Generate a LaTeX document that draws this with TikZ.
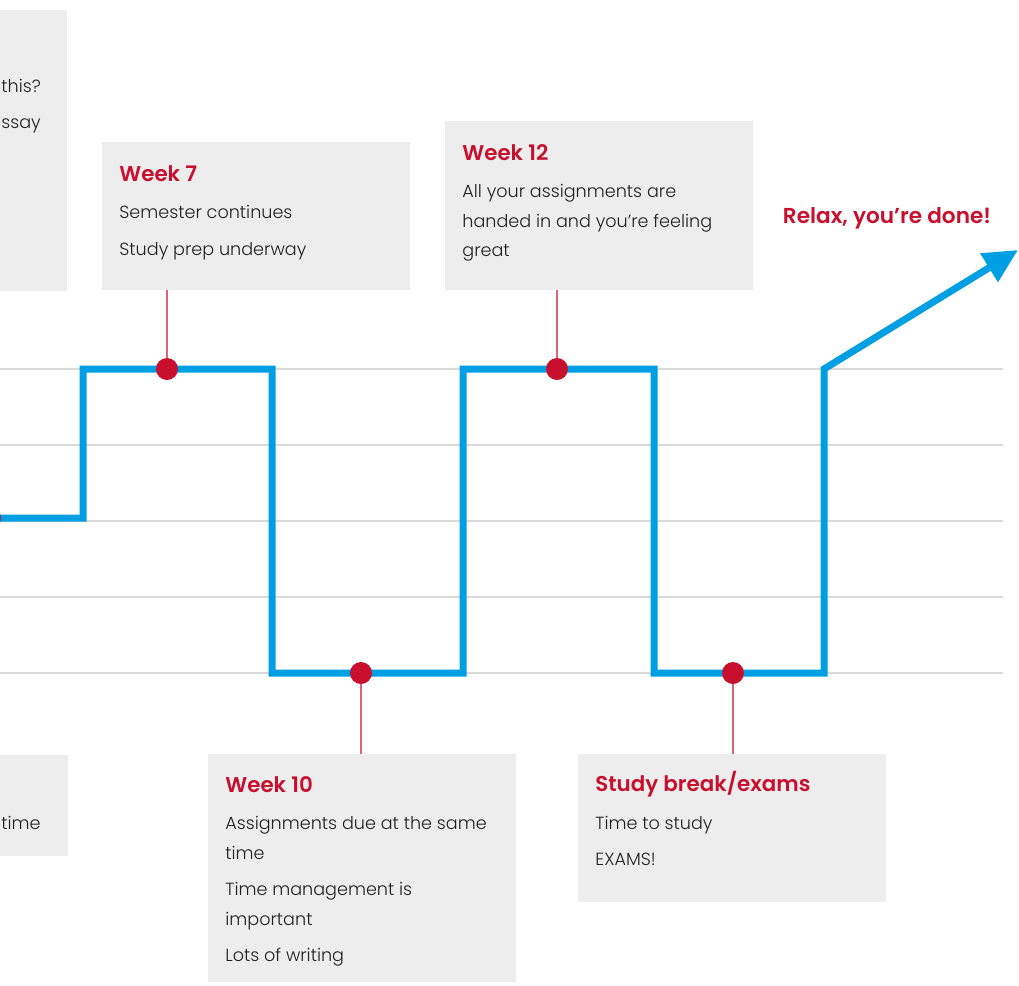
\documentclass[tikz,border=0pt]{standalone}
\usepackage{fontspec}
\setmainfont{Poppins}[UprightFont=* Light, BoldFont=* SemiBold]
\usetikzlibrary{arrows.meta}
\definecolor{trailblue}{HTML}{009FE3}
\definecolor{weekred}{HTML}{C8102E}
\definecolor{boxgrey}{HTML}{EDEDED}
\definecolor{gridgrey}{HTML}{D9D9D9}
\definecolor{bodytext}{HTML}{222222}
\newcommand{\wkhead}[1]{{\fontsize{10.7}{14}\selectfont\bfseries\color{weekred}#1}}
\tikzset{
  infobox/.style={rectangle, fill=boxgrey, inner sep=0pt},
  boxtext/.style={anchor=north west, align=left, inner sep=0pt, text=bodytext,
    font=\fontsize{8.8}{14.75}\selectfont},
  cuttext/.style={anchor=base west, inner sep=0pt, text=bodytext,
    font=\fontsize{8.8}{14.75}\selectfont},
  trail/.style={draw=trailblue, line width=3.5pt, line join=miter},
  weekdot/.style={circle, fill=weekred, minimum size=11pt, inner sep=0pt},
  stem/.style={draw=weekred!65!white, line width=0.6pt},
  gridline/.style={draw=gridgrey, line width=0.7pt}
}
\begin{document}
\begin{tikzpicture}[x=0.5pt, y=-0.5pt]
    \useasboundingbox (0,0) rectangle (1019,986);
    \clip (0,0) rectangle (1019,986);

    % grid
    \foreach \gy in {369,445,521,597,673}
        \draw[gridline] (0,\gy) -- (1003,\gy);

    % boxes cut off at the left
    \node[infobox, minimum width=158.5pt, minimum height=140.5pt] (prev1) at (-91.5,150.5) {};
    \node[cuttext] (prev1a) at (1,92) {this?};
    \node[cuttext] (prev1b) at (1,128) {ssay};
    \node[infobox, minimum width=159pt, minimum height=50.5pt] (prev2) at (-91,805.5) {};
    \node[cuttext] (prev2a) at (1,829) {time};

    % Week 7 box
    \node[infobox, minimum width=154pt, minimum height=74pt] (wk7) at (256,216) {};
    \node[boxtext] at (119,165) {\wkhead{Week 7}\\[4pt]
        Semester continues\\[3.5pt]
        Study prep underway};

    % Week 12 box
    \node[infobox, minimum width=154pt, minimum height=84.5pt] (wk12) at (599,205.5) {};
    \node[boxtext] at (462,144) {\wkhead{Week 12}\\[4pt]
        All your assignments are\\
        handed in and you’re feeling\\
        great};

    % Week 10 box
    \node[infobox, minimum width=154pt, minimum height=114pt] (wk10) at (362,868) {};
    \node[boxtext] at (225,776) {\wkhead{Week 10}\\[4pt]
        Assignments due at the same\\
        time\\[3.5pt]
        Time management is\\
        important\\[3.5pt]
        Lots of writing};

    % Study break box
    \node[infobox, minimum width=154pt, minimum height=74pt] (exams) at (732,828) {};
    \node[boxtext] at (595,771) {\wkhead{Study break/exams}\\[4pt]
        Time to study\\[3.5pt]
        EXAMS!};

    % the trail
    \draw[trail, -{Triangle[length=17pt, width=16pt]}]
        (-20,518) -- (83,518) -- (83,369) -- (272,369) -- (272,673)
        -- (463,673) -- (463,369) -- (654,369) -- (654,673)
        -- (824,673) -- (824,369) -- (1018,250);
    \node[font=\fontsize{10.8}{13}\selectfont\bfseries, text=weekred] (done) at (887,218) {Relax, you’re done!};

    % dots
    \node[weekdot] (d0) at (-10,518) {};
    \node[weekdot] (d7) at (167,369) {};
    \node[weekdot] (d10) at (361,673) {};
    \node[weekdot] (d12) at (557,369) {};
    \node[weekdot] (dex) at (733,673) {};

    % stems
    \draw[stem] (d7.north) -- (d7.north |- wk7.south);
    \draw[stem] (d12.north) -- (d12.north |- wk12.south);
    \draw[stem] (d10.south) -- (d10.south |- wk10.north);
    \draw[stem] (dex.south) -- (dex.south |- exams.north);
\end{tikzpicture}
\end{document}
